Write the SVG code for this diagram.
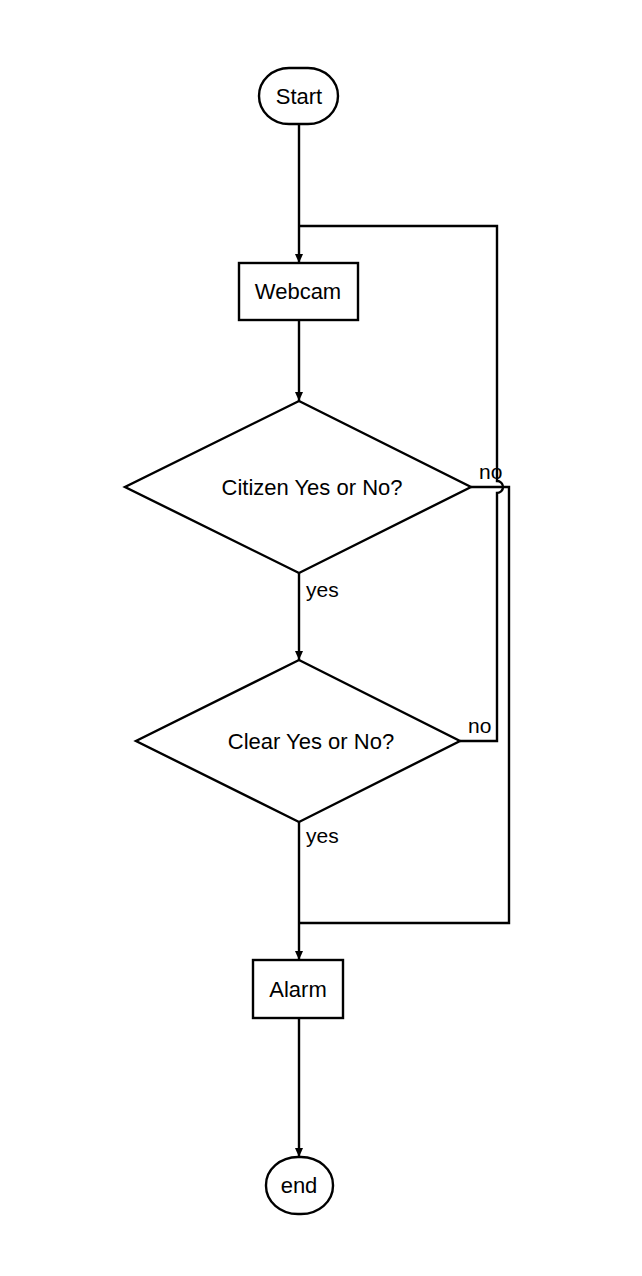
<svg xmlns="http://www.w3.org/2000/svg" width="642" height="1276" viewBox="0 0 642 1276">
<style>
.s{fill:#fff;stroke:#000;stroke-width:2.4}
.c{fill:none;stroke:#000;stroke-width:2.4}
text{font-family:"Liberation Sans",Arial,Helvetica,sans-serif;font-size:22px;fill:#000}
.m{text-anchor:middle}
.l{font-size:21px}
</style>
<defs>
<marker id="a" markerUnits="userSpaceOnUse" markerWidth="9" markerHeight="9" viewBox="0 0 9 9" refX="9" refY="4.5" orient="auto">
<path d="M0,0.5 L9,4.5 L0,8.5 z" fill="#000"/>
</marker>
</defs>
<rect width="642" height="1276" fill="#fff"/>
<g id="connectors">
<path class="c" d="M299 124 V263" marker-end="url(#a)"/>
<path class="c" d="M299 320 V401" marker-end="url(#a)"/>
<path class="c" d="M299 573 V660" marker-end="url(#a)"/>
<path class="c" d="M299 822 V960" marker-end="url(#a)"/>
<path class="c" d="M299 1018 V1157" marker-end="url(#a)"/>
<path class="c" d="M460 741 H497 V493 A6 6 0 0 0 497 481 V226 H299"/>
<path class="c" d="M471 487 H509 V923 H299"/>
<text class="l" x="479" y="479">no</text>
<text class="l" x="468" y="733">no</text>
<text class="l" x="306" y="597">yes</text>
<text class="l" x="306" y="843">yes</text>
</g>
<g id="start">
<rect class="s" x="259" y="68" width="79" height="56" rx="30" ry="28"/>
<text class="m" x="299" y="104">Start</text>
</g>
<g id="webcam">
<rect class="s" x="239" y="263" width="119" height="57"/>
<text class="m" x="298" y="299">Webcam</text>
</g>
<g id="citizen">
<polygon class="s" points="299,401 471,487 299,573 125,487"/>
<text class="m" x="312" y="495">Citizen Yes or No?</text>
</g>
<g id="clear">
<polygon class="s" points="299,660 460,741 299,822 136,741"/>
<text class="m" x="311" y="749">Clear Yes or No?</text>
</g>
<g id="alarm">
<rect class="s" x="253" y="960" width="90" height="58"/>
<text class="m" x="298" y="997">Alarm</text>
</g>
<g id="end">
<rect class="s" x="266" y="1157" width="67" height="57" rx="32" ry="28"/>
<text class="m" x="299" y="1193">end</text>
</g>
</svg>
